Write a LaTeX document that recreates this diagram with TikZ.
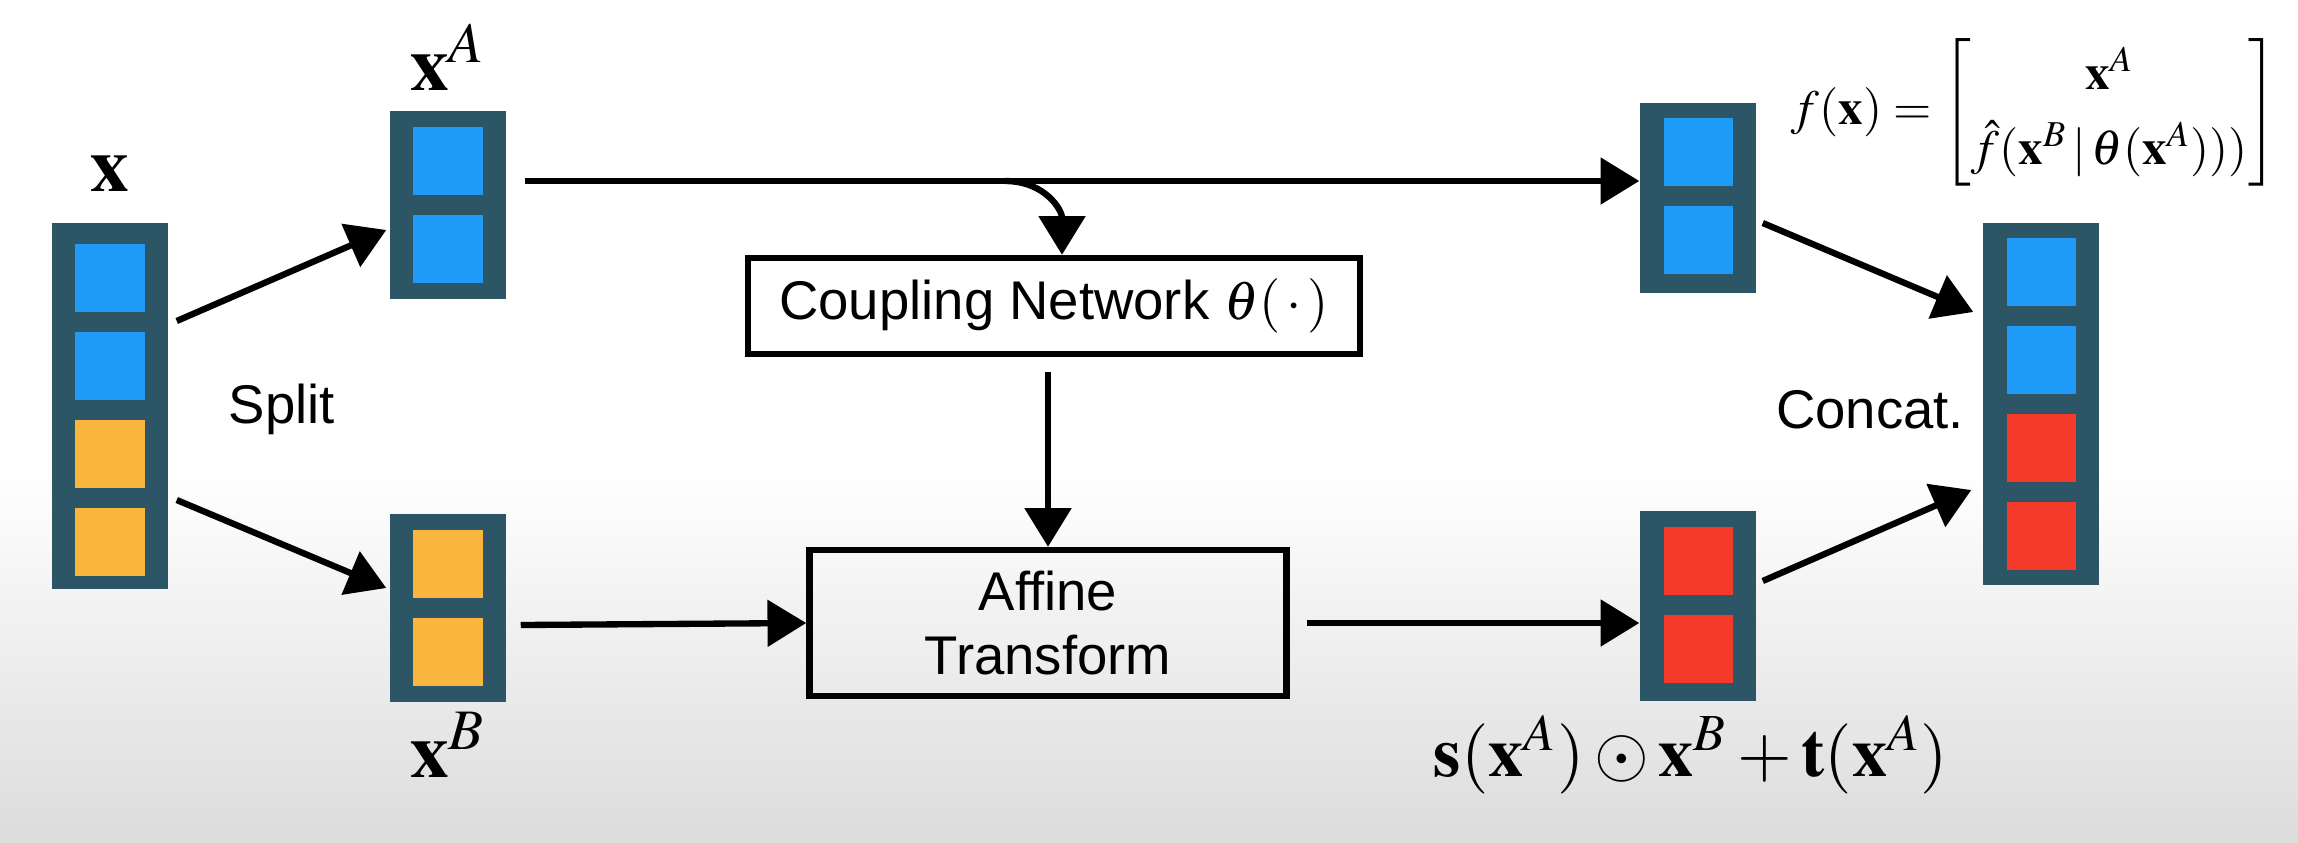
\documentclass[tikz,border=0pt]{standalone}
\usepackage{amsmath}
\usepackage{mathptmx}
\usepackage[no-math]{fontspec}
\setsansfont{Liberation Sans}
\usetikzlibrary{arrows.meta,calc}

\definecolor{frameteal}{HTML}{2C5566}
\definecolor{cellblue}{HTML}{1E9BF7}
\definecolor{cellorange}{HTML}{F9B53D}
\definecolor{cellred}{HTML}{F43A28}
\definecolor{bggray}{HTML}{DCDCDC}

\begin{document}
\begin{tikzpicture}[x=0.01cm, y=-0.01cm,
    vec/.style={fill=frameteal, minimum width=1.16cm, inner sep=0pt},
    cell/.style={minimum width=0.69cm, minimum height=0.67cm, inner sep=0pt},
    block/.style={draw, line width=1.8pt, inner sep=0pt, align=center,
        font=\sffamily\fontsize{15.5}{18}\selectfont},
    lab/.style={font=\sffamily\fontsize{15.5}{18}\selectfont},
    mlab/.style={font=\fontsize{22}{26}\selectfont},
    arr/.style={-{Triangle[length=11pt,width=13pt]}, line width=1.8pt}]

    % Fond
    \fill[white] (0,0) rectangle (2298,842);
    \shade[top color=white, bottom color=bggray] (0,470) rectangle (2298,842);
    \useasboundingbox (0,0) rectangle (2298,842);

    % Vecteur d'entree x
    \node[vec, minimum height=3.65cm] (vx) at (110,406) {};
    \node[cell, fill=cellblue] (x1) at (110,278) {};
    \node[cell, fill=cellblue] (x2) at (110,366) {};
    \node[cell, fill=cellorange] (x3) at (110,454) {};
    \node[cell, fill=cellorange] (x4) at (110,542) {};
    \node[mlab] (lx) at (110,173) {$\mathbf{x}$};

    % Moities x^A et x^B
    \node[vec, minimum height=1.88cm] (vA) at (448,205) {};
    \node[cell, fill=cellblue] (a1) at (448,161) {};
    \node[cell, fill=cellblue] (a2) at (448,249) {};
    \node[mlab] (lA) at (448,57) {$\mathbf{x}^A$};

    \node[vec, minimum height=1.88cm] (vB) at (448,608) {};
    \node[cell, fill=cellorange] (b1) at (448,564) {};
    \node[cell, fill=cellorange] (b2) at (448,652) {};
    \node[mlab] (lB) at (448,745) {$\mathbf{x}^B$};

    \node[lab] (split) at (282,409) {Split};

    % Blocs du milieu
    \node[block, minimum width=6.12cm, minimum height=0.96cm] (coup) at (1054,306)
        {Coupling Network $\theta(\,\cdot\,)$};
    \node[block, minimum width=4.77cm, minimum height=1.46cm] (aff) at (1048,623)
        {Affine\\Transform};

    % Sorties
    \node[vec, minimum height=1.89cm] (vA2) at (1698,198) {};
    \node[cell, fill=cellblue] (c1) at (1698,152) {};
    \node[cell, fill=cellblue] (c2) at (1698,240) {};

    \node[vec, minimum height=1.89cm] (vB2) at (1698,606) {};
    \node[cell, fill=cellred] (d1) at (1698,561) {};
    \node[cell, fill=cellred] (d2) at (1698,649) {};
    \node[mlab, font=\fontsize{20}{24}\selectfont] (res) at (1691,755)
        {$\mathbf{s}(\mathbf{x}^A) \odot \mathbf{x}^B + \mathbf{t}(\mathbf{x}^A)$};

    % Concatenation
    \node[vec, minimum height=3.62cm] (vC) at (2041,404) {};
    \node[cell, fill=cellblue] (e1) at (2041,272) {};
    \node[cell, fill=cellblue] (e2) at (2041,360) {};
    \node[cell, fill=cellred] (e3) at (2041,448) {};
    \node[cell, fill=cellred] (e4) at (2041,536) {};
    \node[lab] (concat) at (1870,410) {Concat.};
    \node[font=\fontsize{14}{17}\selectfont, inner sep=0pt] (fx) at (2034,112)
        {\renewcommand{\arraystretch}{1.25}%
         $f(\mathbf{x}) = \begin{bmatrix} \mathbf{x}^A \\
          \hat{f}(\mathbf{x}^B\,|\,\theta(\mathbf{x}^A))) \end{bmatrix}$};

    % Fleches
    \coordinate (tstart) at (525,181);
    \coordinate (branch) at (1005,181);
    \draw[arr] ($(vx.east)+(8,-85)$) -- ($(vA.west)+(-3,25)$);
    \draw[arr] ($(vx.east)+(8,94)$) -- ($(vB.west)+(-3,-20)$);
    \draw[arr] (tstart) -- (tstart -| vA2.west);
    \draw[arr] (branch) .. controls (1045,181) and (1062,210) .. ($(coup.north)+(8,0)$);
    \draw[arr] ($(coup.south)+(-6,15)$) -- (aff.north);
    \draw[arr] ($(vB.east)+(14,17)$) -- (aff.west);
    \draw[arr] ($(aff.east)+(17,0)$) -- (aff.east -| vB2.west);
    \draw[arr] ($(vA2.east)+(6,25)$) -- ($(vC.west)+(-9,-92)$);
    \draw[arr] ($(vB2.east)+(6,-25)$) -- ($(vC.west)+(-11,86)$);

\end{tikzpicture}
\end{document}
